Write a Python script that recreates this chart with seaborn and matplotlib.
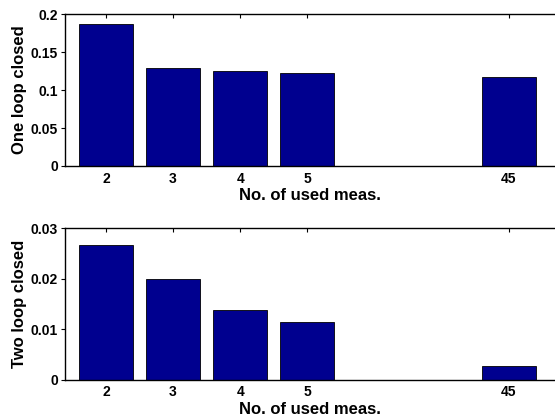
import matplotlib
matplotlib.use("Agg")
import matplotlib.pyplot as plt
import seaborn as sns
import pandas as pd

# Number of measurements used, and the resulting rates
meas_labels = ["2", "3", "4", "5", "45"]
one_loop = [0.1877, 0.1285, 0.1250, 0.1228, 0.1175]
two_loop = [0.0266, 0.0199, 0.01375, 0.0114, 0.0027]

# Empty slots between 5 and 45 leave a gap on the categorical axis
slot_order = ["2", "3", "4", "5", " ", "  ", "45"]

sns.set_style("white")
plt.rcParams["font.family"] = ["Liberation Sans", "DejaVu Sans"]
plt.rcParams["font.weight"] = "bold"
for key in ["text.color", "axes.labelcolor", "xtick.color", "ytick.color",
            "axes.edgecolor"]:
    plt.rcParams[key] = "black"

bar_color = "#00008F"

fig = plt.figure(figsize=(5.55, 4.17), dpi=100)
ax1 = fig.add_axes([0.117, 0.602, 0.883, 0.364])
ax2 = fig.add_axes([0.117, 0.089, 0.883, 0.364])


def draw(ax, values, ylabel, ylim, yticks, yticklabels):
    df = pd.DataFrame({"meas": meas_labels, "rate": values})
    sns.barplot(data=df, x="meas", y="rate", order=slot_order, ax=ax,
                color=bar_color, saturation=1, width=0.8,
                edgecolor="black", linewidth=0.6)
    ax.set_xlim(-0.61, 6.69)
    ax.set_ylim(*ylim)
    ax.set_yticks(yticks)
    ax.set_yticklabels(yticklabels, fontsize=10, fontweight="bold", color="black")
    ax.set_xticks([0, 1, 2, 3, 6])
    ax.set_xticklabels(meas_labels, fontsize=10, fontweight="bold", color="black")
    ax.set_xlabel("No. of used meas.", fontsize=12, fontweight="bold",
                  color="black", labelpad=2)
    ax.set_ylabel(ylabel, fontsize=12, fontweight="bold", color="black", labelpad=3)
    for side in ["left", "bottom", "top"]:
        ax.spines[side].set_visible(True)
        ax.spines[side].set_color("black")
        ax.spines[side].set_linewidth(1.0)
    ax.spines["right"].set_visible(False)
    ax.tick_params(axis="y", direction="out", length=3, width=0.8, left=True,
                   pad=2, colors="black")
    ax.tick_params(axis="x", direction="in", length=3, width=0.8,
                   bottom=True, top=True, pad=4, colors="black")
    ax.set_facecolor("white")


draw(ax1, one_loop, "One loop closed", (0, 0.2),
     [0, 0.05, 0.1, 0.15, 0.2], ["0", "0.05", "0.1", "0.15", "0.2"])
draw(ax2, two_loop, "Two loop closed", (0, 0.03),
     [0, 0.01, 0.02, 0.03], ["0", "0.01", "0.02", "0.03"])

fig.savefig("out.png", dpi=100, facecolor="white")
